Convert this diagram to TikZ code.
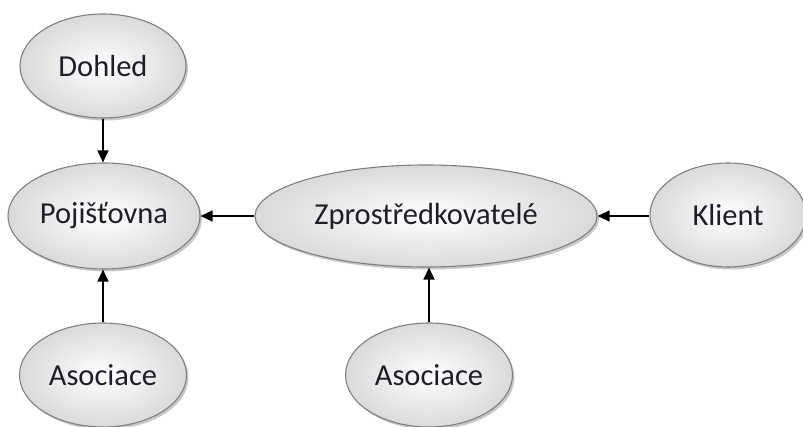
\documentclass[tikz,border=0pt]{standalone}
\usepackage{fontspec}
\setmainfont{Carlito}
\usetikzlibrary{arrows.meta,shapes.geometric,shadows}
\definecolor{edgegray}{HTML}{808080}
\definecolor{outgray}{HTML}{DADADA}
\definecolor{txt}{HTML}{1E1E2A}
\tikzset{
  oval/.style={ellipse, draw=edgegray, line width=1.1pt, inner sep=0pt,
    inner color=white, outer color=outgray,
    drop shadow={shadow xshift=2pt, shadow yshift=-2.5pt, fill=black, opacity=0.22},
    font=\fontsize{30.5}{34}\selectfont, text=txt},
  arr/.style={-{Triangle[length=12pt,width=11pt]}, line width=1.2pt, black}
}
\begin{document}
\begin{tikzpicture}[x=1pt,y=1pt]
\useasboundingbox (0,0) rectangle (803,426);
\node[oval, minimum width=166pt, minimum height=104pt] (dohled) at (103,360) {Dohled};
\node[oval, minimum width=192pt, minimum height=106pt] (poj) at (104,210) {Pojišťovna};
\node[oval, minimum width=342pt, minimum height=102pt] (zpr) at (426,210) {Zprostředkovatelé};
\node[oval, minimum width=156pt, minimum height=104pt] (klient) at (728,211) {Klient};
\node[oval, minimum width=167pt, minimum height=104pt] (asoc1) at (103,51) {Asociace};
\node[oval, minimum width=167pt, minimum height=104pt] (asoc2) at (429,51) {Asociace};
\draw[arr] (dohled.south) -- (dohled.south |- poj.north);
\draw[arr] (asoc1.north) -- (asoc1.north |- poj.south);
\draw[arr] (zpr.west) -- (poj.east);
\draw[arr] (klient.west |- zpr.east) -- (zpr.east);
\draw[arr] (asoc2.north) -- (asoc2.north |- zpr.south);
\end{tikzpicture}
\end{document}
